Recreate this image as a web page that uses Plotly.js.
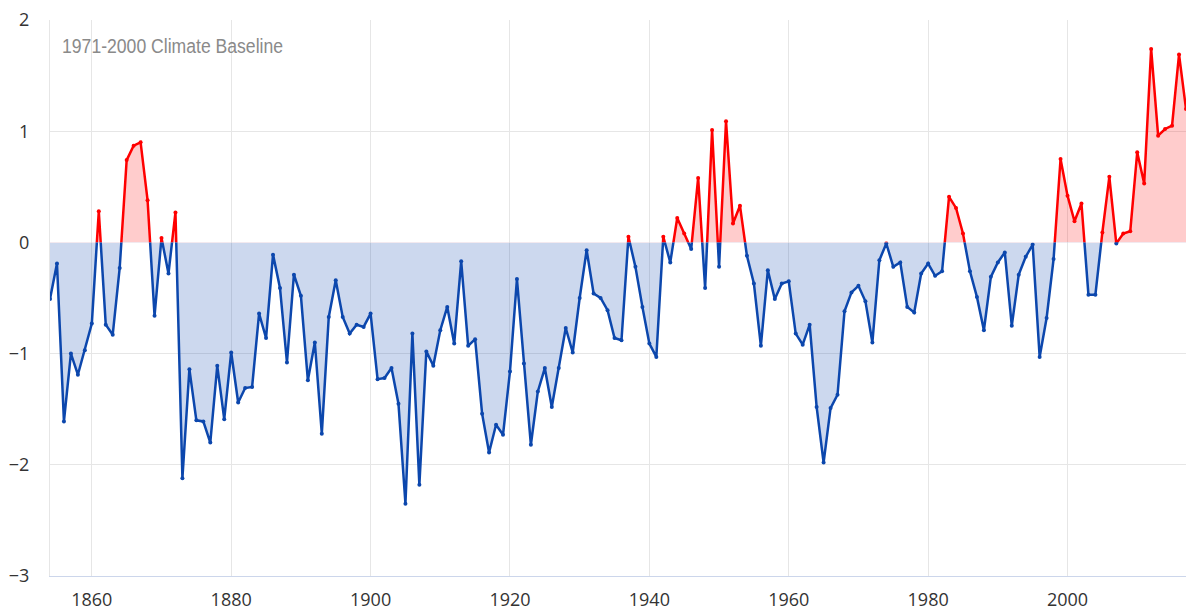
<!DOCTYPE html>
<html>
<head>
<meta charset="utf-8">
<script src="https://cdn.plot.ly/plotly-3.0.1.min.js"></script>
<style>html,body{margin:0;padding:0;overflow:hidden;background:#fff}</style>
</head>
<body>
<div id="chart" style="width:1186px;height:610px"></div>
<script>
const startYear = 1854;
const anomalies = [
  -0.51, -0.19, -1.61, -1.00, -1.19, -0.97, -0.73, 0.28, -0.74, -0.83,
  -0.23, 0.74, 0.87, 0.90, 0.38, -0.66, 0.04, -0.28, 0.27, -2.12,
  -1.14, -1.60, -1.61, -1.80, -1.11, -1.59, -0.99, -1.44, -1.31, -1.30,
  -0.64, -0.86, -0.11, -0.41, -1.08, -0.29, -0.48, -1.24, -0.90, -1.72,
  -0.67, -0.34, -0.67, -0.82, -0.74, -0.76, -0.64, -1.23, -1.22, -1.13,
  -1.45, -2.35, -0.82, -2.18, -0.98, -1.11, -0.79, -0.58, -0.91, -0.17,
  -0.93, -0.87, -1.54, -1.89, -1.64, -1.73, -1.16, -0.33, -1.09, -1.82,
  -1.34, -1.13, -1.48, -1.13, -0.77, -0.99, -0.50, -0.07, -0.46, -0.50,
  -0.61, -0.86, -0.88, 0.05, -0.22, -0.58, -0.91, -1.03, 0.05, -0.18,
  0.22, 0.08, -0.06, 0.58, -0.41, 1.01, -0.22, 1.09, 0.17, 0.33,
  -0.12, -0.37, -0.93, -0.25, -0.51, -0.37, -0.35, -0.82, -0.92, -0.74,
  -1.48, -1.98, -1.49, -1.37, -0.62, -0.45, -0.39, -0.53, -0.90, -0.16,
  -0.01, -0.22, -0.18, -0.58, -0.63, -0.28, -0.19, -0.30, -0.26, 0.41,
  0.31, 0.08, -0.26, -0.49, -0.79, -0.31, -0.18, -0.09, -0.75, -0.29,
  -0.13, -0.02, -1.03, -0.68, -0.15, 0.75, 0.42, 0.19, 0.35, -0.47,
  -0.47, 0.09, 0.59, -0.01, 0.08, 0.10, 0.81, 0.53, 1.74, 0.96,
  1.02, 1.05, 1.69, 1.20
];
const years = anomalies.map((_, i) => startYear + i);
const xTickVals = [1860, 1880, 1900, 1920, 1940, 1960, 1980, 2000];
const yTickUpper = [0, 1, 2];
const yTickLower = [-3, -2, -1];
const baselineLabel = '1971-2000 Climate Baseline';

const redLine = '#ff0000';
const redFill = 'rgba(255,0,0,0.2)';
const blueLine = '#0c47ad';
const blueFill = 'rgba(12,71,173,0.21)';

const traces = [
  {
    x: years, y: anomalies, xaxis: 'x', yaxis: 'y2', type: 'scatter', mode: 'lines+markers',
    fill: 'tozeroy', fillcolor: blueFill,
    line: {color: blueLine, width: 2.5}, marker: {color: blueLine, size: 4},
    hoverinfo: 'skip'
  },
  {
    x: years, y: anomalies, xaxis: 'x', yaxis: 'y', type: 'scatter', mode: 'lines+markers',
    fill: 'tozeroy', fillcolor: redFill,
    line: {color: redLine, width: 2.5}, marker: {color: redLine, size: 4},
    hoverinfo: 'skip'
  }
];

const tickFont = {family: '"Open Sans", sans-serif', size: 18, color: '#333'};

const layout = {
  width: 1186, height: 610,
  margin: {l: 50, r: 0, t: 20, b: 34},
  paper_bgcolor: '#fff', plot_bgcolor: '#fff',
  showlegend: false,
  xaxis: {
    range: [1854, 2017], anchor: 'y2',
    tickvals: xTickVals, ticktext: xTickVals.map(String),
    showgrid: true, gridcolor: '#e6e6e6', gridwidth: 1,
    zeroline: false, showline: true, linecolor: '#ccd6eb', linewidth: 1,
    ticks: '', ticklabelstandoff: 7, tickfont: tickFont
  },
  yaxis: {
    domain: [0.6, 1], range: [0, 2], anchor: 'x',
    tickvals: yTickUpper, ticktext: yTickUpper.map(String),
    showgrid: true, gridcolor: '#e6e6e6', gridwidth: 1,
    zeroline: false, showline: true, linecolor: '#e6e6e6', linewidth: 1,
    ticks: '', ticklabelstandoff: 16, tickfont: tickFont
  },
  yaxis2: {
    domain: [0, 0.6], range: [-3, 0], anchor: 'x',
    tickvals: yTickLower, ticktext: yTickLower.map(v => '\u2212' + Math.abs(v)),
    showgrid: true, gridcolor: '#e6e6e6', gridwidth: 1,
    zeroline: false, showline: true, linecolor: '#e6e6e6', linewidth: 1,
    ticks: '', ticklabelstandoff: 16, tickfont: tickFont
  },
  annotations: [{
    text: baselineLabel, xref: 'paper', yref: 'paper',
    x: 0.0095, y: 0.953, xanchor: 'left', yanchor: 'middle', showarrow: false,
    font: {family: '"Liberation Sans", sans-serif', size: 20, color: '#8a8a8a'}
  }]
};

Plotly.newPlot('chart', traces, layout, {staticPlot: true, displayModeBar: false}).then(function (gd) {
  // condense the baseline label to the narrow width of the original and keep it left-aligned
  const t = gd.querySelector('.annotation-text');
  if (t) {
    t.setAttribute('textLength', '221');
    t.setAttribute('lengthAdjust', 'spacingAndGlyphs');
    const host = gd.getBoundingClientRect();
    const r = t.getBoundingClientRect();
    const dx = 62 - (r.left - host.left);
    t.setAttribute('transform', 'translate(' + dx.toFixed(1) + ',0)');
  }
});
</script>
</body>
</html>
